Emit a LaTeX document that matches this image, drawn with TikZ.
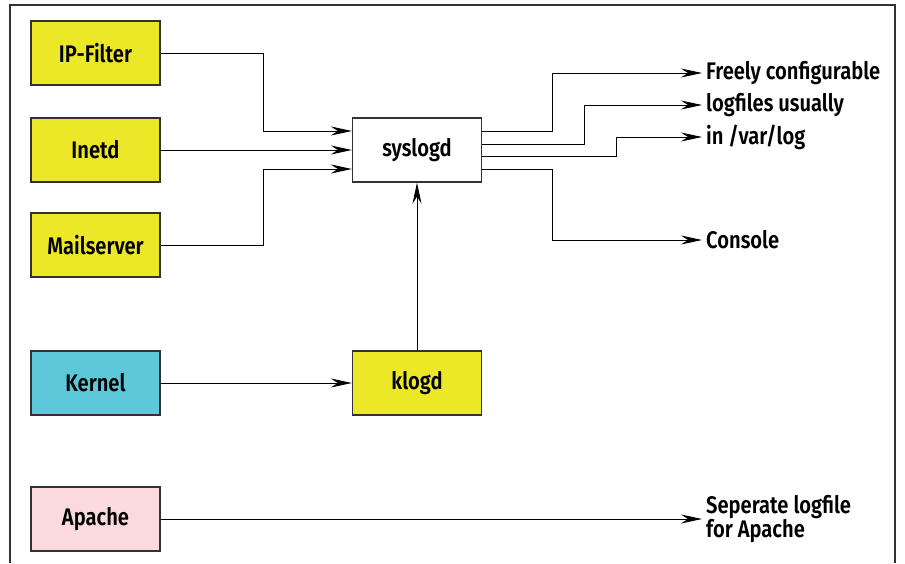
\documentclass[tikz,border=0pt]{standalone}
\usepackage{fontspec}
\setmainfont{Fira Sans}[FakeStretch=0.84,BoldFont={Fira Sans SemiBold}]
\usetikzlibrary{arrows.meta}
\definecolor{fyellow}{RGB}{236,232,40}
\definecolor{fcyan}{RGB}{92,200,218}
\definecolor{fpink}{RGB}{250,218,218}
\definecolor{fborder}{RGB}{50,50,50}
\begin{document}
\begin{tikzpicture}[x=1pt,y=-1pt,
  box/.style={draw=fborder,line width=1.3pt,minimum width=129pt,minimum height=64pt,inner sep=0pt,font=\fontsize{24}{26}\selectfont\bfseries},
  lab/.style={anchor=west,inner xsep=4pt,inner ysep=0pt,font=\fontsize{24}{24}\selectfont\bfseries},
  conn/.style={line width=0.9pt,-{Stealth[length=21pt,width=9pt,inset=7pt]}},
  plain/.style={line width=0.9pt}]
\useasboundingbox (0,0) rectangle (905,563);
\draw[line width=1.2pt,fborder] (10,563) -- (10,5) -- (895,5) -- (895,563);
\node[box,fill=fyellow] (ip) at (95.5,53) {IP-Filter};
\node[box,fill=fyellow] (inetd) at (95.5,150) {Inetd};
\node[box,fill=fyellow] (mail) at (95.5,245) {Mailserver};
\node[box,fill=fcyan] (kernel) at (95.5,383) {Kernel};
\node[box,fill=fpink] (apache) at (95.5,519) {Apache};
\node[box,fill=white] (sys) at (417,150) {syslogd};
\node[box,fill=fyellow] (klogd) at (417,383) {klogd};
\node[lab] (free) at (702,73) {Freely configurable};
\node[lab] (logf) at (702,105) {logfiles usually};
\node[lab] (inv) at (702,137) {in /var/log};
\node[lab] (cons) at (702,240) {Console};
\node[lab,align=left] (sep) at (702,519) {Seperate logfile\\for Apache};
\draw[conn] (ip.east) -- ++(103,0) |- ([yshift=19pt]sys.west);
\draw[conn] (inetd.east) -- (sys.west);
\draw[conn] (mail.east) -- ++(103,0) |- ([yshift=-19pt]sys.west);
\draw[conn] (kernel.east) -- (klogd.west);
\draw[conn] (klogd.north) -- (sys.south);
\draw[conn] ([yshift=19pt]sys.east) -- ++(70,0) |- (free.west);
\draw[conn] ([yshift=6pt]sys.east) -- ++(102,0) |- (logf.west);
\draw[conn] ([yshift=-6pt]sys.east) -- ++(134,0) |- (inv.west);
\draw[conn] ([yshift=-19pt]sys.east) -- ++(70,0) |- (cons.west);
\draw[conn] (apache.east) -- (apache.east -| sep.west);
\end{tikzpicture}
\end{document}
